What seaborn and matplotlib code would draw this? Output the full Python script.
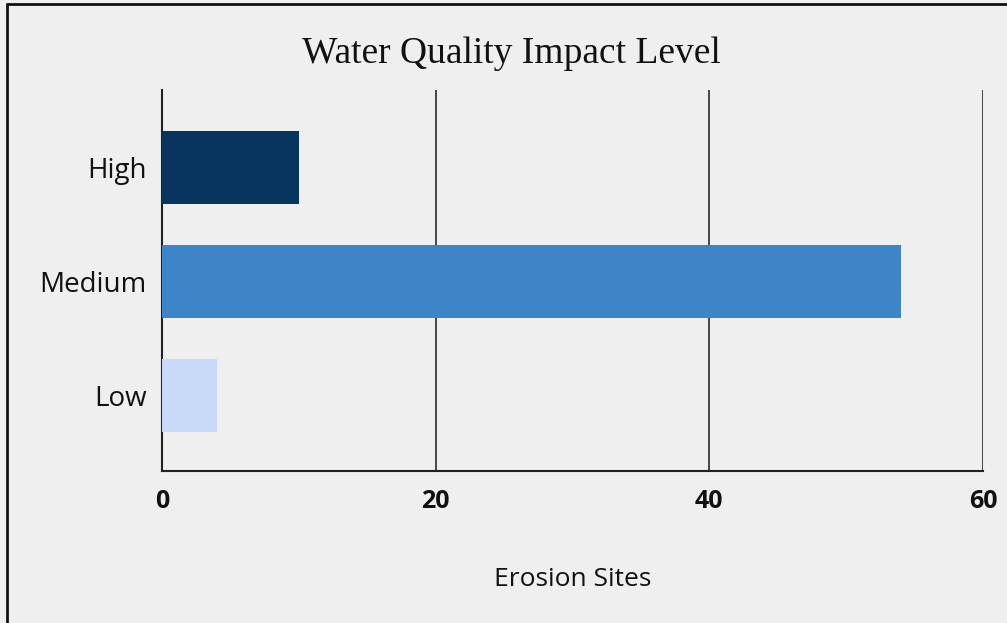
import matplotlib
matplotlib.use("Agg")
import matplotlib.pyplot as plt
import pandas as pd
import seaborn as sns
from matplotlib.lines import Line2D

categories = ["High", "Medium", "Low"]
erosion_sites = [10, 54, 4]
bar_colors = ["#08355F", "#3D85C6", "#C9DAF8"]
x_ticks = [0, 20, 40, 60]

bg = "#EFEFEF"
sns.set_theme(style="white")
plt.rcParams["font.family"] = ["Open Sans", "DejaVu Sans"]

df = pd.DataFrame({"impact": categories, "sites": erosion_sites})

fig = plt.figure(figsize=(10.07, 6.23), dpi=100, facecolor=bg)
ax = fig.add_axes([0.1609, 0.2440, 0.8153, 0.6115])
ax.set_facecolor(bg)

sns.barplot(data=df, x="sites", y="impact", hue="impact", palette=bar_colors,
            order=categories, hue_order=categories, orient="h", width=0.64,
            saturation=1, linewidth=0, legend=False, ax=ax, zorder=3)

ax.set_xlim(0, 60)
ax.set_ylim(2.66, -0.675)
ax.set_xticks(x_ticks)
ax.set_xticklabels([str(t) for t in x_ticks], fontsize=18, fontweight="bold", color="#111111")
ax.tick_params(axis="y", labelsize=20, colors="#111111", length=0, pad=11)
ax.tick_params(axis="x", length=0, pad=13)
ax.xaxis.grid(True, color="#3A3A3A", linewidth=1.3, zorder=0)
ax.set_axisbelow(True)

for side in ["top", "right"]:
    ax.spines[side].set_visible(False)
for side in ["left", "bottom"]:
    ax.spines[side].set_color("#222222")
    ax.spines[side].set_linewidth(1.5)

ax.set_ylabel("")
ax.set_xlabel("Erosion Sites", fontsize=19, color="#111111", labelpad=38)

fig.text(511 / 1007, 1 - 54 / 623, "Water Quality Impact Level", ha="center", va="center",
         fontsize=27, family=["Liberation Serif", "DejaVu Serif"], color="#111111")

# outer frame (left and top edges visible)
fig.add_artist(Line2D([7 / 1007, 7 / 1007], [0, 1 - 4 / 623], transform=fig.transFigure,
                      color="#111111", linewidth=2))
fig.add_artist(Line2D([7 / 1007, 1], [1 - 4 / 623, 1 - 4 / 623], transform=fig.transFigure,
                      color="#111111", linewidth=2))

fig.savefig("out.png", dpi=100, facecolor=bg)
